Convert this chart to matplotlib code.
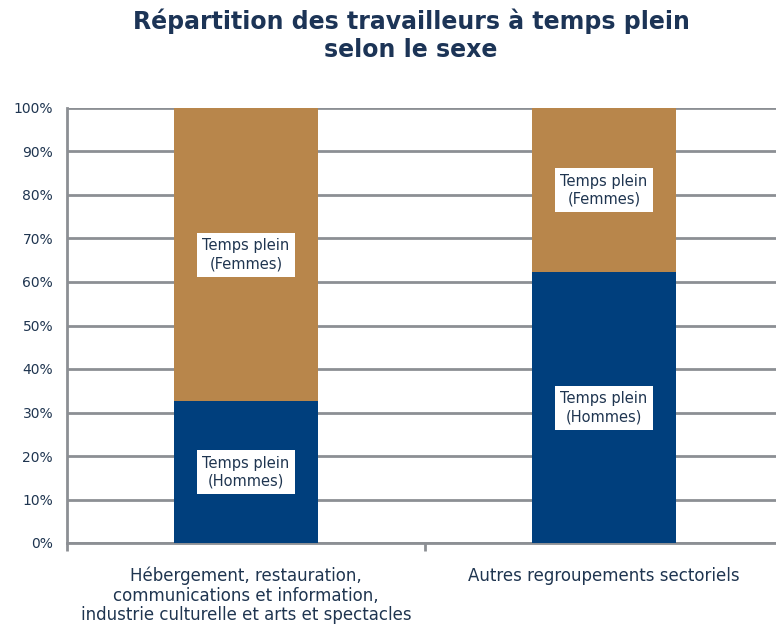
import matplotlib
matplotlib.use("Agg")
import matplotlib.pyplot as plt
import numpy as np

categories = ["Hébergement, restauration,\ncommunications et information,\nindustrie culturelle et arts et spectacles",
              "Autres regroupements sectoriels"]
hommes = [32.6, 62.2]
femmes = [67.4, 37.8]
series_labels = ["Temps plein\n(Hommes)", "Temps plein\n(Femmes)"]
yticks = list(range(0, 101, 10))

navy = "#003F7D"
tan = "#B8864B"
txt = "#1F3550"
grid = "#8C8F94"

W, H = 776, 628
fig = plt.figure(figsize=(W/100, H/100), dpi=100)
ax = fig.add_axes([67/W, 1-543/H, 716/W, 435/H])

x = np.arange(len(categories))
ax.bar(x, hommes, width=0.4, color=navy, zorder=3)
ax.bar(x, femmes, width=0.4, bottom=hommes, color=tan, zorder=3)

for i in range(len(categories)):
    ax.text(x[i], hommes[i]/2, series_labels[0], ha="center", va="center", fontsize=10.5,
            color=txt, zorder=5, linespacing=1.25,
            bbox=dict(facecolor="white", edgecolor="none", pad=4))
    ax.text(x[i], hommes[i] + femmes[i]/2, series_labels[1], ha="center", va="center", fontsize=10.5,
            color=txt, zorder=5, linespacing=1.25,
            bbox=dict(facecolor="white", edgecolor="none", pad=4))

ax.set_xlim(-0.5, 1.5)
ax.set_ylim(0, 100)
ax.set_yticks(yticks)
ax.set_yticklabels([f"{v}%" for v in yticks], fontsize=10, color=txt)
ax.yaxis.grid(True, color=grid, linewidth=2, zorder=0)
ax.tick_params(axis="y", length=0, pad=10)

ax.set_xticks([-0.5, 0.5, 1.5])
ax.set_xticklabels(["", "", ""])
ax.tick_params(axis="x", length=6, width=2, color=grid, direction="out")
for i, c in enumerate(categories):
    ax.text(x[i], -5.5, c, ha="center", va="top", fontsize=12, color=txt, linespacing=1.1,
            transform=ax.transData)

for s in ["top", "right"]:
    ax.spines[s].set_visible(False)
ax.spines["left"].set_color(grid)
ax.spines["left"].set_linewidth(2)
ax.spines["bottom"].set_color(grid)
ax.spines["bottom"].set_linewidth(2)

fig.text(411/W, 1-35/H, "Répartition des travailleurs à temps plein\nselon le sexe",
         ha="center", va="center", fontsize=17, fontweight="bold", color="#1C3456", linespacing=1.2)

fig.savefig("out.png", dpi=100)
